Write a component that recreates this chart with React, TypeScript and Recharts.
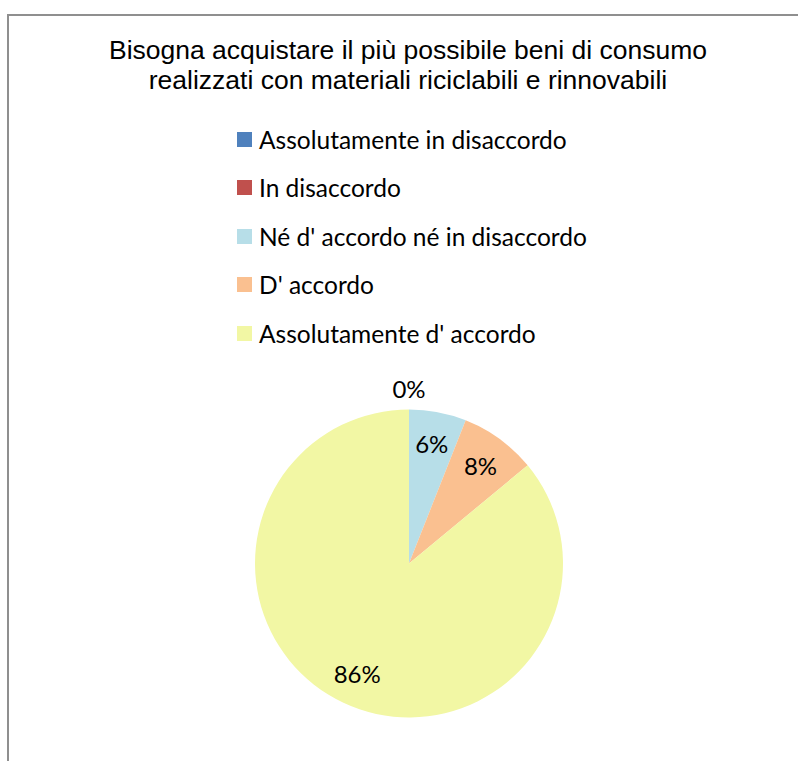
import React from "react";
import { PieChart, Pie, Cell, Legend } from "recharts";

const titleLines = [
  "Bisogna acquistare il più possibile beni di consumo",
  "realizzati con materiali riciclabili e rinnovabili",
];
const categories = [
  "Assolutamente in disaccordo",
  "In disaccordo",
  "Né d' accordo né in disaccordo",
  "D' accordo",
  "Assolutamente d' accordo",
];
const shares = [0, 0, 6, 8, 86];
const colors = ["#4F81BD", "#C0504D", "#B7DEE8", "#FAC090", "#F2F7A4"];

const data = categories.map((name, i) => ({ name, value: shares[i] }));

const RADIAN = Math.PI / 180;

const renderLabel = (props: any) => {
  const { cx, cy, midAngle, outerRadius, value, index } = props;
  // stacked zero slices share one label spot, draw it only once
  if (value === 0 && index > 0 && shares[index - 1] === 0) return null;
  const r = value === 0 ? outerRadius + 21 : outerRadius * 0.79;
  const x = cx + r * Math.cos(-midAngle * RADIAN);
  const y = cy + r * Math.sin(-midAngle * RADIAN);
  return (
    <text
      x={x}
      y={y}
      fill="#000"
      textAnchor="middle"
      dominantBaseline="central"
      fontFamily="Lato"
      fontSize={24}
    >
      {`${value}%`}
    </text>
  );
};

const renderLegend = () => (
  <div style={{ fontFamily: "Lato", fontSize: 24.5, color: "#000" }}>
    {categories.map((c, i) => (
      <div
        key={c}
        style={{ display: "flex", alignItems: "center", height: 48.5 }}
      >
        <span
          style={{
            display: "inline-block",
            width: 15,
            height: 15,
            background: colors[i],
            marginRight: 7,
          }}
        />
        <span>{c}</span>
      </div>
    ))}
  </div>
);

export default function App() {
  return (
    <div
      style={{
        position: "absolute",
        left: 7,
        top: 14,
        width: 800,
        height: 760,
        border: "2px solid #8f8f8f",
        background: "#fff",
      }}
    >
      <div
        style={{
          position: "absolute",
          top: 19,
          left: 0,
          width: 798,
          textAlign: "center",
          fontFamily: "Liberation Sans",
          fontSize: 26.5,
          lineHeight: "30px",
          color: "#000",
        }}
      >
        {titleLines.map((t) => (
          <div key={t}>{t}</div>
        ))}
      </div>
      <PieChart width={800} height={760}>
        <Legend
          content={renderLegend}
          wrapperStyle={{ position: "absolute", top: 99, left: 228, width: 420 }}
        />
        <Pie
          data={data}
          dataKey="value"
          nameKey="name"
          cx={395}
          cy={542.5}
          outerRadius={154}
          startAngle={90}
          endAngle={-270}
          stroke="none"
          label={renderLabel}
          labelLine={false}
          isAnimationActive={false}
        >
          {data.map((d, i) => (
            <Cell key={d.name} fill={colors[i]} />
          ))}
        </Pie>
      </PieChart>
    </div>
  );
}
